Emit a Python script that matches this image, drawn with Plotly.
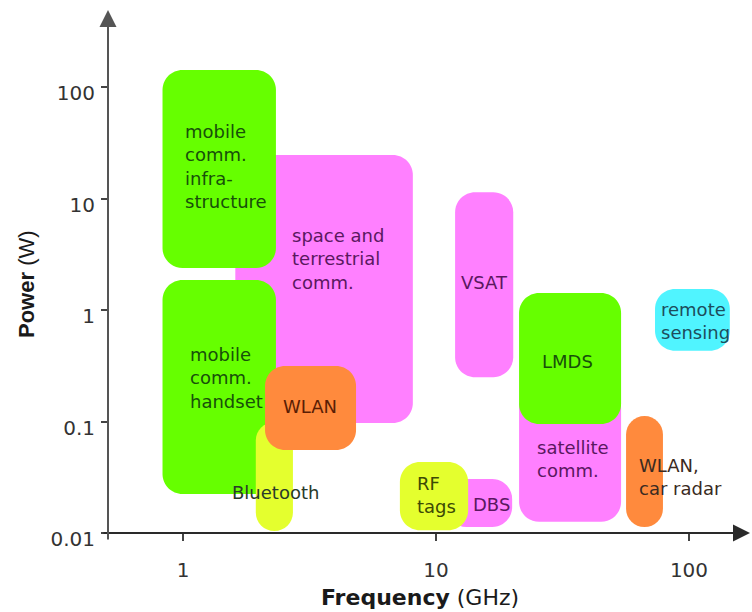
import math
import plotly.graph_objects as go

# Wireless services: frequency band (GHz) and transmit power (W) spans
services = ["space and<br>terrestrial<br>comm.",
            "mobile<br>comm.<br>infra-<br>structure",
            "mobile<br>comm.<br>handset",
            "Bluetooth",
            "WLAN",
            "VSAT",
            "satellite<br>comm.",
            "LMDS",
            "remote<br>sensing",
            "WLAN,<br>car radar",
            "DBS",
            "RF<br>tags"]
freq_low = [1.61, 0.83, 0.83, 1.94, 2.11, 11.9, 21.3, 21.3, 73.4, 56.4, 11.0, 7.2]
freq_high = [8.1, 2.33, 2.33, 2.72, 4.83, 20.2, 53.9, 53.9, 145.0, 78.9, 20.0, 13.4]
power_low = [0.097, 2.38, 0.0224, 0.0104, 0.0555, 0.25, 0.0126, 0.095, 0.43, 0.0113, 0.0113, 0.0106]
power_high = [24.5, 142.0, 1.86, 0.099, 0.315, 11.4, 0.2, 1.42, 1.54, 0.112, 0.0305, 0.0433]

x_tick_vals = [1, 10, 100]
x_tick_text = ["1", "10", "100"]
y_tick_vals = [0.01, 0.1, 1, 10, 100]
y_tick_text = ["0.01", "0.1", "1", "10", "100"]

# Label anchor points (data coordinates) and alignment
label_x = [2.65, 1.0, 1.047, 2.33, 3.18, 15.5, 24.6, 33.2, 76.1, 62.3, 16.5, 8.26]
label_y = [2.84, 19.2, 0.248, 0.0233, 0.135, 1.78, 0.0461, 0.342, 0.805, 0.0318, 0.0182, 0.0217]
label_align = ["left", "left", "left", "center", "center", "center",
               "left", "center", "left", "left", "center", "left"]

GREEN, PINK, ORANGE, YELLOW, CYAN = "#66ff00", "#ff80ff", "#ff8a3d", "#e4ff2e", "#50f4ff"
fill_colors = [PINK, GREEN, GREEN, YELLOW, ORANGE, PINK, PINK, GREEN, CYAN, ORANGE, PINK, YELLOW]
text_colors = ["#5a1860", "#17500a", "#17500a", "#2a3a2a", "#5a1e05", "#5a1860",
               "#5a1860", "#17500a", "#1d4d5c", "#3a2a22", "#5a1860", "#3d4a05"]

# Figure geometry
W, H = 752, 612
ML, MR, MT, MB = 108, 2, 10, 79
PW, PH = W - ML - MR, H - MT - MB
X_RANGE = [-0.2964, -0.2964 + PW / 253.0]
Y_RANGE = [-2.0, -2.0 + PH / 111.5]
X_DEC_PER_PX = (X_RANGE[1] - X_RANGE[0]) / PW
Y_DEC_PER_PX = (Y_RANGE[1] - Y_RANGE[0]) / PH
RADIUS_PX = 20
K = 0.5523  # cubic approximation of a quarter circle


def rounded_box(f0, f1, p0, p1):
    lx0, lx1 = math.log10(f0), math.log10(f1)
    ly0, ly1 = math.log10(p0), math.log10(p1)
    w_px = (lx1 - lx0) / X_DEC_PER_PX
    h_px = (ly1 - ly0) / Y_DEC_PER_PX
    r = min(RADIUS_PX, w_px / 2, h_px / 2)
    dx, dy = r * X_DEC_PER_PX, r * Y_DEC_PER_PX

    def pt(lx, ly):
        return f"{10 ** lx:.6f},{10 ** ly:.6f}"

    return (
        f"M{pt(lx0 + dx, ly0)}"
        f" L{pt(lx1 - dx, ly0)}"
        f" C{pt(lx1 - dx + K * dx, ly0)} {pt(lx1, ly0 + dy - K * dy)} {pt(lx1, ly0 + dy)}"
        f" L{pt(lx1, ly1 - dy)}"
        f" C{pt(lx1, ly1 - dy + K * dy)} {pt(lx1 - dx + K * dx, ly1)} {pt(lx1 - dx, ly1)}"
        f" L{pt(lx0 + dx, ly1)}"
        f" C{pt(lx0 + dx - K * dx, ly1)} {pt(lx0, ly1 - dy + K * dy)} {pt(lx0, ly1 - dy)}"
        f" L{pt(lx0, ly0 + dy)}"
        f" C{pt(lx0, ly0 + dy - K * dy)} {pt(lx0 + dx - K * dx, ly0)} {pt(lx0 + dx, ly0)} Z"
    )


fig = go.Figure()

# invisible trace spanning the service extents so the log axes are populated
fig.add_trace(go.Scatter(
    x=freq_low + freq_high, y=power_low + power_high,
    mode="markers", marker=dict(opacity=0), hoverinfo="skip", showlegend=False))

shapes = []
for f0, f1, p0, p1, col in zip(freq_low, freq_high, power_low, power_high, fill_colors):
    shapes.append(dict(type="path", xref="x", yref="y",
                       path=rounded_box(f0, f1, p0, p1),
                       fillcolor=col, line=dict(width=0), layer="above"))

annotations = []
for txt, lx, ly, al, tc in zip(services, label_x, label_y, label_align, text_colors):
    annotations.append(dict(
        x=math.log10(lx), y=math.log10(ly), xref="x", yref="y",
        text=txt, showarrow=False, align=al,
        xanchor="left" if al == "left" else "center", yanchor="middle",
        font=dict(family="DejaVu Sans", size=18, color=tc)))

# axis lines with arrow heads
annotations.append(dict(
    x=1, y=0, xref="paper", yref="paper", text="", showarrow=True,
    ax=-(PW + 6), ay=0, axref="pixel", ayref="pixel",
    arrowhead=2, arrowsize=1.7, arrowwidth=2, arrowcolor="#2a2a2a", standoff=0))
annotations.append(dict(
    x=0, y=1, xref="paper", yref="paper", text="", showarrow=True,
    ax=0, ay=PH + 8, axref="pixel", ayref="pixel",
    arrowhead=2, arrowsize=1.7, arrowwidth=2, arrowcolor="#555555", standoff=0))

# axis titles
annotations.append(dict(
    x=(420 - ML) / PW, y=(MT + PH - 597) / PH, xref="paper", yref="paper",
    text="<b>Frequency</b> (GHz)", showarrow=False, xanchor="center", yanchor="middle",
    font=dict(family="DejaVu Sans", size=22, color="#1a1a1a")))
annotations.append(dict(
    x=(26 - ML) / PW, y=(MT + PH - 284) / PH, xref="paper", yref="paper",
    text="<b>Power</b> (W)", showarrow=False, textangle=-90,
    xanchor="center", yanchor="middle",
    font=dict(family="Liberation Sans", size=22, color="#1a1a1a")))

fig.update_layout(
    width=W, height=H, autosize=False,
    margin=dict(l=ML, r=MR, t=MT, b=MB),
    paper_bgcolor="white", plot_bgcolor="white",
    showlegend=False,
    shapes=shapes, annotations=annotations,
    xaxis=dict(type="log", range=X_RANGE, showgrid=False, zeroline=False, showline=False,
               tickmode="array", tickvals=x_tick_vals, ticktext=x_tick_text,
               ticks="outside", ticklen=7, tickwidth=1.5, tickcolor="#444",
               ticklabelstandoff=12,
               tickfont=dict(family="DejaVu Sans", size=20, color="#333")),
    yaxis=dict(type="log", range=Y_RANGE, showgrid=False, zeroline=False, showline=False,
               tickmode="array", tickvals=y_tick_vals, ticktext=y_tick_text,
               ticks="outside", ticklen=6, tickwidth=1.5, tickcolor="#444",
               ticklabelshift=6, ticklabelstandoff=2,
               tickfont=dict(family="DejaVu Sans", size=20, color="#333")),
)

fig.write_html("out.html")
